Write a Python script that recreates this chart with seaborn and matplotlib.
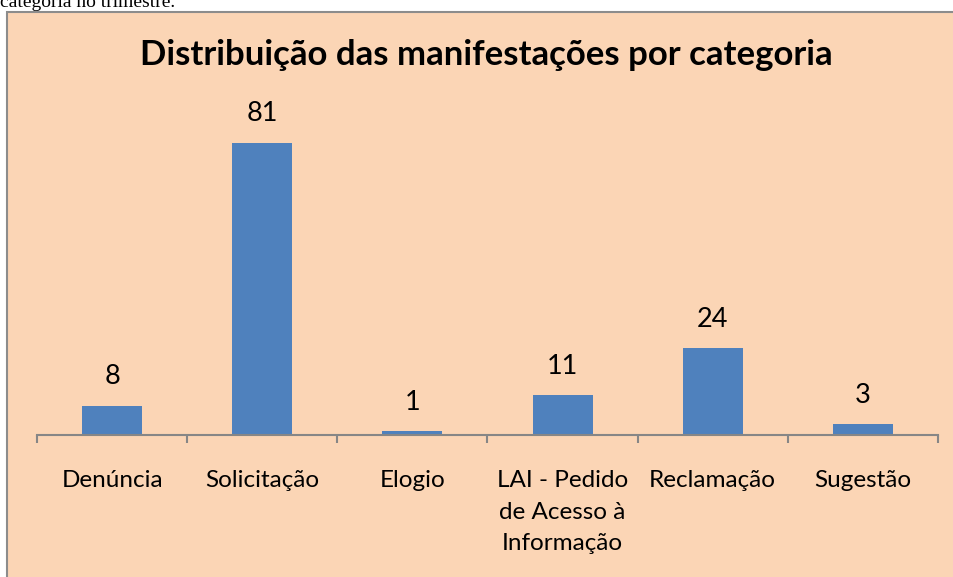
import matplotlib
matplotlib.use("Agg")
import matplotlib.pyplot as plt
from matplotlib.patches import Rectangle
import pandas as pd
import seaborn as sns

CATEGORIES = ["Denúncia", "Solicitação", "Elogio",
              "LAI - Pedido\nde Acesso à\nInformação", "Reclamação", "Sugestão"]
VALUES = [8, 81, 1, 11, 24, 3]

TITLE = "Distribuição das manifestações por categoria"
PEACH = "#FBD5B5"
BLUE = "#4F81BD"
GRAY = "#868686"

sns.set_theme(style="white")
plt.rcParams["font.family"] = ["Lato", "DejaVu Sans"]
plt.rcParams["text.color"] = "black"
plt.rcParams["xtick.color"] = "black"

df = pd.DataFrame({"categoria": CATEGORIES, "total": VALUES})

fig = plt.figure(figsize=(9.54, 5.77), dpi=100)
fig.patch.set_facecolor("white")

# chart box (cropped on right/bottom like the source screenshot)
fig.patches.append(Rectangle((7 / 954, -0.1), 1.2, 1.1 - 12 / 577,
                             transform=fig.transFigure, facecolor=PEACH,
                             edgecolor="#8C8C8C", linewidth=1.5, zorder=-5))

# leftover of the document text above the chart (cut off in the source too)
fig.text(0.0, 1 - 7 / 577, "categoria no trimestre.", family="Liberation Serif",
         fontsize=14, va="baseline", ha="left", color="black")

ax = fig.add_axes([37 / 954, 1 - 435 / 577, 901 / 954, (435 - 110.5) / 577])
ax.set_facecolor("none")

sns.barplot(data=df, x="categoria", y="total", color=BLUE, width=0.4,
            saturation=1, linewidth=0, ax=ax)

for i, v in enumerate(VALUES):
    ax.annotate(str(v), (i, v), xytext=(0, 21), textcoords="offset points",
                ha="center", va="center", fontsize=19.5)

ax.set_xlim(-0.5, len(CATEGORIES) - 0.5)
ax.set_ylim(0, 90)
ax.set_xlabel("")
ax.set_ylabel("")
ax.set_yticks([])
for s in ["top", "right", "left"]:
    ax.spines[s].set_visible(False)
ax.spines["bottom"].set_color(GRAY)
ax.spines["bottom"].set_linewidth(1.5)

ax.set_xticks(range(len(CATEGORIES)))
ax.set_xticklabels(CATEGORIES, fontsize=17.5, linespacing=1.6, va="top")
ax.set_xticks([i - 0.5 for i in range(len(CATEGORIES) + 1)], minor=True)
ax.tick_params(axis="x", which="major", length=0, pad=25.5)
ax.tick_params(axis="x", which="minor", length=6, width=1.5, color=GRAY,
               direction="out", bottom=True)

fig.text(486 / 954, 1 - 55 / 577, TITLE, ha="center", va="center",
         fontsize=25, fontweight="bold")

fig.savefig("out.png", dpi=100)
